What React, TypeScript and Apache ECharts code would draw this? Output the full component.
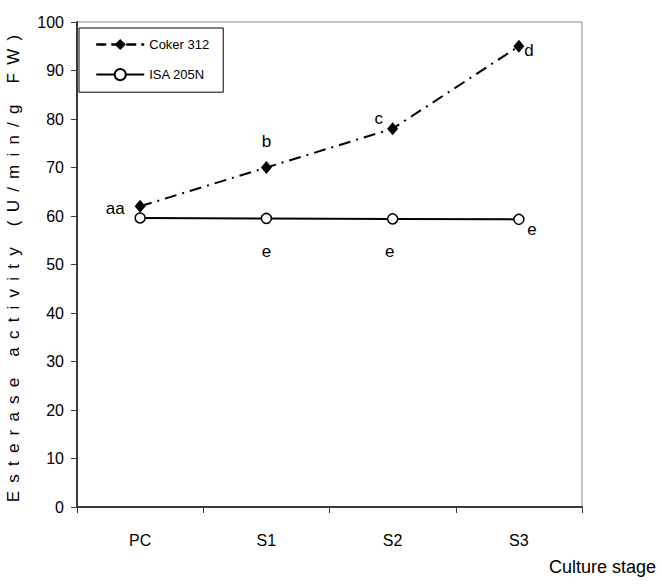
import React, { useEffect, useRef } from "react";
import * as echarts from "echarts";

const categories = ["PC", "S1", "S2", "S3"];
const cokerValues = [62, 70, 78, 95];
const isaValues = [59.6, 59.5, 59.4, 59.3];
const cokerLetters = ["aa", "b", "c", "d"];
const isaLetters = ["", "e", "e", "e"];
const yTicks = { min: 0, max: 100, interval: 10 };

// label placement (styling only)
const cokerLabelOffsets = [[-25, 2], [0, -26], [-14, -10], [10, 4]];
const isaLabelOffsets = [[0, 0], [0, 33], [-3, 33], [13, 10]];

const FONT = "'Liberation Sans Narrow', 'Liberation Sans', Arial, sans-serif";

export default function App() {
  const ref = useRef<HTMLDivElement>(null);
  useEffect(() => {
    if (!ref.current) return;
    const chart = echarts.init(ref.current, undefined, { renderer: "svg" });
    const letterLabel = (txt: string, off: number[]) => ({
      show: txt !== "",
      formatter: txt,
      position: "inside",
      offset: off,
      color: "#000",
      fontSize: 17,
      fontFamily: FONT,
    });
    chart.setOption({
      animation: false,
      backgroundColor: "#fff",
      grid: {
        left: 77,
        right: 80,
        top: 22,
        bottom: 78,
        outerBoundsMode: "none",
        containLabel: false,
        show: true,
        borderColor: "#8a8a8a",
        borderWidth: 1,
        backgroundColor: "#fff",
      },
      legend: {
        orient: "vertical",
        left: 79,
        top: 28,
        padding: [10, 14, 11, 16],
        itemGap: 17,
        itemWidth: 48,
        itemHeight: 14,
        backgroundColor: "#fff",
        borderColor: "#000",
        borderWidth: 1,
        borderRadius: 0,
        textStyle: { fontSize: 13, fontFamily: FONT, color: "#000" },
        data: [
          { name: "Coker 312", lineStyle: { type: [10, 5], width: 2.5 } },
          { name: "ISA 205N" },
        ],
      },
      xAxis: {
        type: "category",
        data: categories,
        boundaryGap: true,
        axisLine: { lineStyle: { color: "#3a3a3a", width: 2 } },
        axisTick: { show: true, length: 6, lineStyle: { color: "#3a3a3a", width: 1 } },
        axisLabel: { color: "#000", fontSize: 16, fontFamily: FONT, margin: 25 },
        splitLine: { show: false },
      },
      yAxis: {
        type: "value",
        min: yTicks.min,
        max: yTicks.max,
        interval: yTicks.interval,
        name: "Esterase activity (U/min/g FW)",
        nameLocation: "middle",
        nameGap: 55,
        nameTextStyle: { color: "#000", fontSize: 17, fontFamily: FONT },
        axisLine: { show: true, lineStyle: { color: "#3a3a3a", width: 2 } },
        axisTick: { show: true, length: 6, lineStyle: { color: "#3a3a3a", width: 1 } },
        axisLabel: { color: "#000", fontSize: 16, fontFamily: FONT, margin: 13 },
        splitLine: { show: false },
      },
      graphic: [
        {
          type: "text",
          left: 549,
          top: 558,
          style: { text: "Culture stage", fontSize: 18, fontFamily: FONT, fill: "#000" },
        },
      ],
      series: [
        {
          name: "Coker 312",
          type: "line",
          symbol: "diamond",
          symbolSize: [11, 13],
          itemStyle: { color: "#000" },
          lineStyle: { color: "#000", width: 2, type: [12, 6, 2, 6] },
          data: cokerValues.map((v, i) => ({
            value: v,
            label: letterLabel(cokerLetters[i], cokerLabelOffsets[i]),
          })),
          z: 3,
        },
        {
          name: "ISA 205N",
          type: "line",
          symbol: "circle",
          symbolSize: 10,
          itemStyle: { color: "#fff", borderColor: "#000", borderWidth: 1.5 },
          lineStyle: { color: "#000", width: 2 },
          data: isaValues.map((v, i) => ({
            value: v,
            label: letterLabel(isaLetters[i], isaLabelOffsets[i]),
          })),
          z: 2,
        },
      ],
    });
    // widen the y-axis title spacing like the reference
    const texts = ref.current.querySelectorAll("text");
    texts.forEach((t) => {
      if ((t.textContent || "").indexOf("Esterase") >= 0) {
        t.setAttribute("letter-spacing", "8.2");
      }
    });
    return () => chart.dispose();
  }, []);
  return (
    <div
      ref={ref}
      style={{ position: "absolute", left: 0, top: 0, width: 662, height: 585 }}
    />
  );
}
